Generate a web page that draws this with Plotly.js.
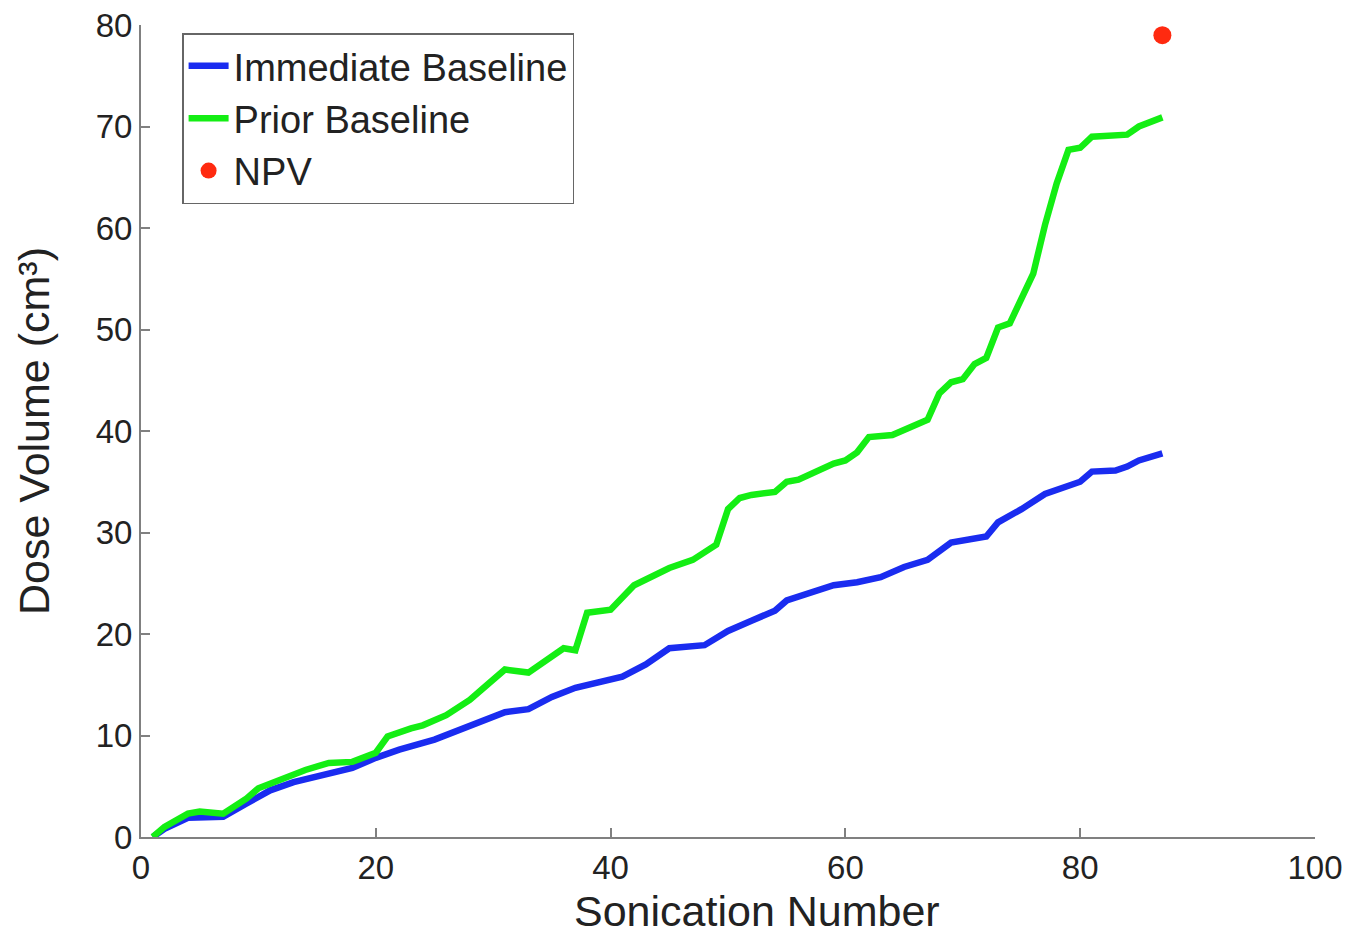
<!DOCTYPE html>
<html>
<head>
<meta charset="utf-8">
<script src="https://cdn.plot.ly/plotly-3.0.1.min.js"></script>
<style>html,body{margin:0;padding:0;background:#fff;}#chart{width:1366px;height:935px;}</style>
</head>
<body>
<div id="chart"></div>
<script>
// Immediate Baseline (blue)
const immediateX = [1,2,4,7,9,11,13,16,18,20,22,25,27,29,31,33,35,37,39,41,43,45,48,50,52,54,55,57,59,61,63,65,67,69,71,72,73,75,77,79,80,81,83,84,85,87];
const immediateY = [0,0.8,1.9,2.0,3.3,4.6,5.4,6.3,6.8,7.8,8.6,9.6,10.5,11.5,12.3,12.6,13.8,14.7,15.2,15.8,17.0,18.6,18.9,20.3,21.3,22.3,23.3,24.0,24.8,25.1,25.6,26.6,27.3,29.0,29.3,29.6,31.0,32.3,33.8,34.5,35.0,36.0,36.1,36.5,37.1,37.8];
// Prior Baseline (green)
const priorX = [1,2,4,5,7,9,10,12,14,16,18,20,21,23,24,26,28,29,31,33,36,37,38,40,42,45,47,49,50,51,52,54,55,56,59,60,61,62,64,67,68,69,70,71,72,73,74,76,77,78,79,80,81,84,85,87];
const priorY = [0,1.0,2.3,2.5,2.3,3.8,4.8,5.7,6.6,7.3,7.4,8.3,9.9,10.7,11.0,12.0,13.5,14.5,16.5,16.2,18.6,18.4,22.1,22.4,24.8,26.5,27.3,28.8,32.3,33.4,33.7,34.0,35.0,35.2,36.8,37.1,37.9,39.4,39.6,41.1,43.7,44.8,45.1,46.6,47.2,50.2,50.6,55.5,60.3,64.4,67.7,67.9,69.0,69.2,70.0,70.9];
// NPV (red point)
const npvX = [87];
const npvY = [79];

const xTicks = [0,20,40,60,80,100];
const yTicks = [0,10,20,30,40,50,60,70,80];
const xTitle = 'Sonication Number';
const yTitle = 'Dose Volume (cm³)';

const traces = [
  {x: immediateX, y: immediateY, type: 'scatter', mode: 'lines', name: 'Immediate Baseline',
   line: {color: '#1a2cf0', width: 6.5}},
  {x: priorX, y: priorY, type: 'scatter', mode: 'lines', name: 'Prior Baseline',
   line: {color: '#14ee14', width: 6.5}},
  {x: npvX, y: npvY, type: 'scatter', mode: 'markers', name: 'NPV',
   marker: {color: '#ff2a10', size: 18}}
];

const tickFont = {family: 'Liberation Sans, Arial, sans-serif', size: 33, color: '#222'};
const titleFont = {family: 'Liberation Sans, Arial, sans-serif', size: 43, color: '#222'};

const layout = {
  width: 1366, height: 935,
  margin: {l: 141, r: 51, t: 25, b: 98},
  paper_bgcolor: '#fff', plot_bgcolor: '#fff',
  showlegend: true,
  legend: {x: 0.035, y: 0.99, xanchor: 'left', yanchor: 'top',
    bordercolor: '#666', borderwidth: 1.5, bgcolor: '#fff',
    font: {family: 'Liberation Sans, Arial, sans-serif', size: 38, color: '#222'},
    tracegroupgap: 0, itemwidth: 40},
  xaxis: {range: [0, 100], tickvals: xTicks, ticktext: xTicks.map(String),
    showgrid: false, zeroline: false, showline: true, linecolor: '#808080', linewidth: 2,
    ticks: 'inside', ticklen: 9, tickwidth: 2, tickcolor: '#808080',
    tickfont: tickFont},
  yaxis: {range: [0, 80], tickvals: yTicks, ticktext: yTicks.map(String),
    showgrid: false, zeroline: false, showline: true, linecolor: '#808080', linewidth: 2,
    ticks: 'inside', ticklen: 9, tickwidth: 2, tickcolor: '#808080',
    tickfont: tickFont,
    title: {text: yTitle, font: titleFont, standoff: 33}},
  annotations: [
    {text: xTitle, xref: 'paper', yref: 'paper', x: 0.525, y: -0.06,
     xanchor: 'center', yanchor: 'top', showarrow: false, borderpad: 0, font: titleFont}
  ]
};

Plotly.newPlot('chart', traces, layout, {displayModeBar: false, staticPlot: true});
</script>
</body>
</html>
